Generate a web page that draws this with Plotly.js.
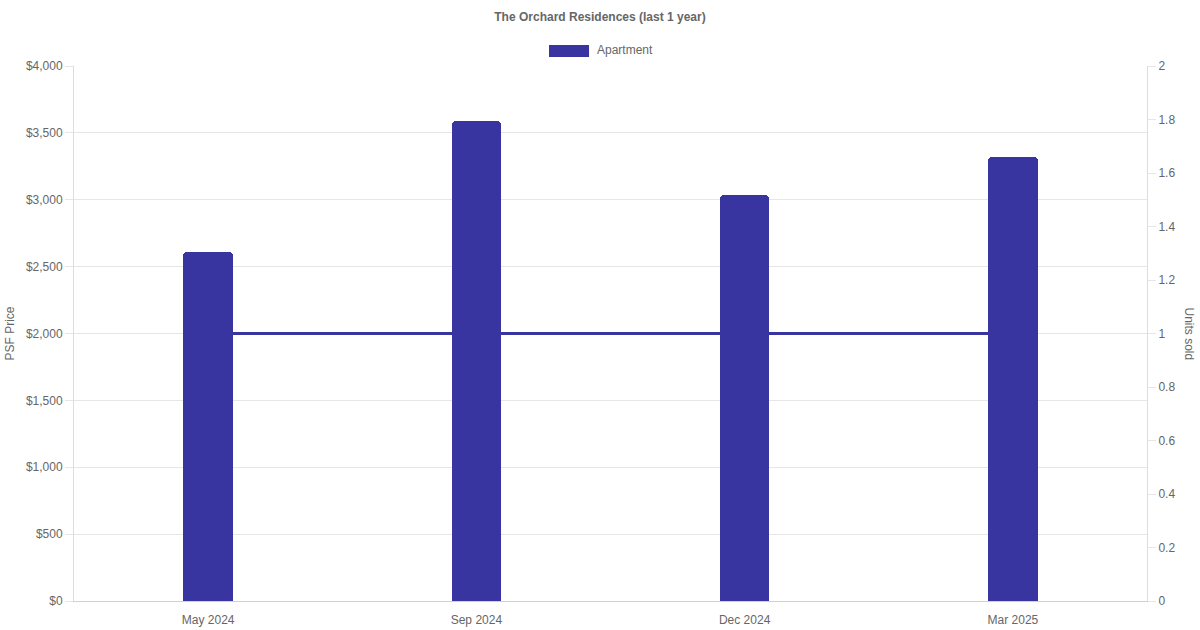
<!DOCTYPE html>
<html>
<head>
<meta charset="utf-8">
<script src="https://cdn.plot.ly/plotly-3.0.1.min.js"></script>
<style>html,body{margin:0;padding:0;background:#fff;}#chart{width:1200px;height:630px;}</style>
</head>
<body>
<div id="chart"></div>
<script>
const months = ["May 2024", "Sep 2024", "Dec 2024", "Mar 2025"];
const psfPrice = [2609, 3589, 3035, 3317];
const unitsSold = [1, 1, 1, 1];
const seriesName = "Apartment";
const color = "#3834a0";
const font = "Liberation Sans, Arial, sans-serif";

const traces = [
  {
    type: "bar", x: months, y: psfPrice, name: seriesName,
    marker: {color: color, cornerradius: 4},
    width: 0.185, yaxis: "y", showlegend: false,
    hovertemplate: "%{x}: $%{y:,}<extra></extra>"
  },
  {
    type: "scatter", mode: "lines", x: months, y: unitsSold, name: seriesName,
    line: {color: color, width: 3}, yaxis: "y2", showlegend: false
  }
];

const layout = {
  width: 1200, height: 630,
  margin: {l: 74, r: 53, t: 66, b: 29},
  paper_bgcolor: "#fff", plot_bgcolor: "#fff",
  font: {family: font, size: 12, color: "#666"},
  title: {text: "<b>The Orchard Residences (last 1 year)</b>", x: 0.5, xanchor: "center", y: 0.973, yanchor: "middle", font: {family: font, size: 12, color: "#666"}},
  showlegend: false,
  bargap: 0,
  xaxis: {
    type: "category", showgrid: false, showline: true, linecolor: "#d0d0d0", linewidth: 1,
    ticks: "", ticklabelstandoff: 8, tickfont: {size: 12, color: "#666"}, zeroline: false
  },
  yaxis: {
    range: [0, 4000], dtick: 500, tickprefix: "$", tickformat: ",d",
    showgrid: true, gridcolor: "#e6e6e6", gridwidth: 1,
    showline: true, linecolor: "#ddd", ticks: "outside", ticklen: 8, tickcolor: "#e6e6e6",
    zeroline: false, tickfont: {size: 12, color: "#666"},
    title: {text: "PSF Price", standoff: 8, font: {size: 12, color: "#666"}}
  },
  yaxis2: {
    overlaying: "y", side: "right", range: [0, 2], dtick: 0.2,
    showgrid: false, showline: true, linecolor: "#ddd",
    ticks: "outside", ticklen: 8, tickcolor: "#e6e6e6", zeroline: false,
    tickfont: {size: 12, color: "#666"}
  },
  shapes: [
    {type: "rect", xref: "paper", yref: "paper", x0: 0.4427, x1: 0.48, y0: 1.0168, y1: 1.0392,
     fillcolor: color, line: {width: 0}}
  ],
  annotations: [
    {xref: "paper", yref: "paper", x: 0.4856, y: 1.029, xanchor: "left", yanchor: "middle",
     text: seriesName, showarrow: false, font: {size: 12, color: "#666"}},
    {xref: "paper", yref: "paper", x: 1.0, xshift: 42, y: 0.5, xanchor: "center", yanchor: "middle",
     text: "Units sold", textangle: 90, showarrow: false, font: {size: 12, color: "#666"}}
  ]
};

Plotly.newPlot("chart", traces, layout, {displayModeBar: false, responsive: false});
</script>
</body>
</html>
